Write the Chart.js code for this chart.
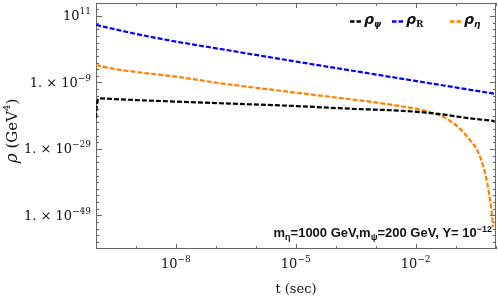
<!DOCTYPE html>
<html>
<head>
<meta charset="utf-8">
<script src="https://cdn.jsdelivr.net/npm/chart.js@4"></script>
<style>html,body{margin:0;padding:0;background:#fff}</style>
</head>
<body>
<canvas id="myChart" width="498" height="299"></canvas>
<script>
// values, as powers of ten: log10(t / sec) and log10(rho / GeV^4)
const logT_psi = [-10, -9.98, -9.95, -9.9, -9.64, -9, -8, -6.89, -5, -3.64, -2.39, -1.54, -0.64, -0.02];
const logRho_psi = [-19.7, -16, -14.2, -13.8, -13.95, -14.3, -14.75, -15.26, -16.1, -16.9, -17.5, -18.3, -19.8, -20.6];

const logT_R = [-10, -9.64, -9, -8, -6.89, -5, -3.39, -2, -0.02];
const logRho_R = [8.3, 7.3, 5.6, 3.3, 1.07, -2.7, -5.84, -8.55, -12.4];

const logT_eta = [-10, -9.64, -9, -8, -6.89, -5, -3.64, -3, -2.5, -2, -1.54, -1.2, -0.9, -0.64, -0.46, -0.3, -0.21, -0.1, -0.06];
const logRho_eta = [-3.74, -4.73, -5.85, -7.25, -9.24, -12.05, -14.05, -15.0, -15.9, -16.9, -18.3, -20.1, -22.8, -26.3, -29.3, -34.5, -39.2, -47.5, -52.5];

const xTickExp = [-8, -5, -2];
const yTickExp = [11, -9, -29, -49];

const pts = (lt, lr) => lt.map((v, i) => ({x: Math.pow(10, v), y: Math.pow(10, lr[i])}));

const serif = '"DejaVu Serif"';
const supRaise = -6;

function rich(ctx, parts, x, y, align) {
  let w = 0;
  parts.forEach(p => { ctx.font = p.font; w += ctx.measureText(p.t).width; });
  let cx = align === 'right' ? x - w : align === 'center' ? x - w / 2 : x;
  parts.forEach(p => {
    ctx.font = p.font;
    ctx.fillText(p.t, cx, y + (p.dy || 0));
    cx += ctx.measureText(p.t).width;
  });
}

const decor = {
  id: 'decor',
  beforeDatasetsDraw(chart) {
    const {ctx, chartArea: a, scales: {x, y}} = chart;
    ctx.save();
    ctx.strokeStyle = '#666';
    ctx.lineWidth = 1;
    ctx.strokeRect(a.left + 0.5, a.top + 0.5, a.right - a.left - 1, a.bottom - a.top - 1);
    ctx.beginPath();
    for (let e = -10; e <= 0; e++) {
      const px = Math.round(x.getPixelForValue(Math.pow(10, e))) + 0.5;
      const len = xTickExp.includes(e) ? 5 : 3;
      ctx.moveTo(px, a.bottom); ctx.lineTo(px, a.bottom - len);
      ctx.moveTo(px, a.top); ctx.lineTo(px, a.top + len);
    }
    for (let e = 13; e >= -57; e -= 2) {
      const py = Math.round(y.getPixelForValue(Math.pow(10, e))) + 0.5;
      const len = yTickExp.includes(e) ? 6 : 3;
      ctx.moveTo(a.left, py); ctx.lineTo(a.left + len, py);
      ctx.moveTo(a.right, py); ctx.lineTo(a.right - len, py);
    }
    ctx.stroke();
    ctx.restore();
  },
  afterDraw(chart) {
    const {ctx, chartArea: a, scales: {x, y}} = chart;
    ctx.save();
    ctx.fillStyle = '#111';
    ctx.textBaseline = 'alphabetic';
    const big = '13px ' + serif, small = '9px ' + serif;

    xTickExp.forEach(e => {
      const px = x.getPixelForValue(Math.pow(10, e));
      rich(ctx, [{t: '10', font: big}, {t: '\u2212' + (-e), font: small, dy: supRaise}], px, 268, 'center');
    });
    yTickExp.forEach(e => {
      const py = y.getPixelForValue(Math.pow(10, e));
      const ex = e < 0 ? '\u2212' + (-e) : String(e);
      const lead = e === 11 ? '10' : '1. \u00d7 10';
      rich(ctx, [{t: lead, font: big}, {t: ex, font: small, dy: supRaise}], 91, py + 4.5, 'right');
    });

    // axis titles
    rich(ctx, [{t: 't (sec)', font: '13px ' + serif}], (a.left + a.right) / 2, 293, 'center');
    ctx.save();
    ctx.translate(17, 131);
    ctx.rotate(-Math.PI / 2);
    rich(ctx, [
      {t: '\u03c1', font: 'italic 17px ' + serif},
      {t: ' (GeV', font: '15px ' + serif},
      {t: '4', font: '10px ' + serif, dy: -7},
      {t: ')', font: '15px ' + serif}
    ], 0, 0, 'center');
    ctx.restore();

    // legend
    const leg = [
      {c: '#000000', x: 350, sub: '\u03c8', subFont: 'bold italic 9px "DejaVu Sans"'},
      {c: '#0000ff', x: 392, sub: 'R', subFont: 'bold 9px ' + serif},
      {c: '#ff8000', x: 450, sub: '\u03b7', subFont: 'bold italic 9px "DejaVu Sans"'}
    ];
    leg.forEach(l => {
      ctx.strokeStyle = l.c;
      ctx.lineWidth = 2.5;
      ctx.beginPath();
      ctx.moveTo(l.x, 21.5); ctx.lineTo(l.x + 4.5, 21.5);
      ctx.moveTo(l.x + 6.5, 21.5); ctx.lineTo(l.x + 11, 21.5);
      ctx.stroke();
      rich(ctx, [
        {t: '\u03c1', font: 'bold italic 14px "DejaVu Sans"'},
        {t: l.sub, font: l.subFont, dy: 3}
      ], l.x + 14, 24, 'left');
    });

    // annotation
    const bf = 'bold 13px "Liberation Sans"', bs = 'bold 9px "Liberation Sans"';
    rich(ctx, [
      {t: 'm', font: bf}, {t: '\u03b7', font: bs, dy: 3},
      {t: '=1000 GeV,m', font: bf}, {t: '\u03c8', font: bs, dy: 3},
      {t: '=200 GeV, Y= 10', font: bf}, {t: '\u221212', font: bs, dy: -5}
    ], 492, 237, 'right');
    ctx.restore();
  }
};

const line = (label, color, data) => ({
  label: label,
  data: data,
  borderColor: color,
  backgroundColor: color,
  borderWidth: 2.2,
  borderDash: [5, 2],
  pointRadius: 0,
  fill: false,
  cubicInterpolationMode: 'monotone'
});

new Chart('myChart', {
  type: 'line',
  data: {
    datasets: [
      line('\u03c1\u03c8', '#000000', pts(logT_psi, logRho_psi)),
      line('\u03c1R', '#0000ff', pts(logT_R, logRho_R)),
      line('\u03c1\u03b7', '#ff8000', pts(logT_eta, logRho_eta))
    ]
  },
  options: {
    responsive: false,
    animation: false,
    layout: {padding: {left: 96, top: 3, right: 2, bottom: 50}},
    scales: {
      x: {type: 'logarithmic', display: false, min: 1e-10, max: Math.pow(10, 0.0125)},
      y: {type: 'logarithmic', display: false, min: Math.pow(10, -59.1), max: Math.pow(10, 14.9)}
    },
    plugins: {
      legend: {display: false},
      tooltip: {enabled: false}
    }
  },
  plugins: [decor]
});
</script>
</body>
</html>
